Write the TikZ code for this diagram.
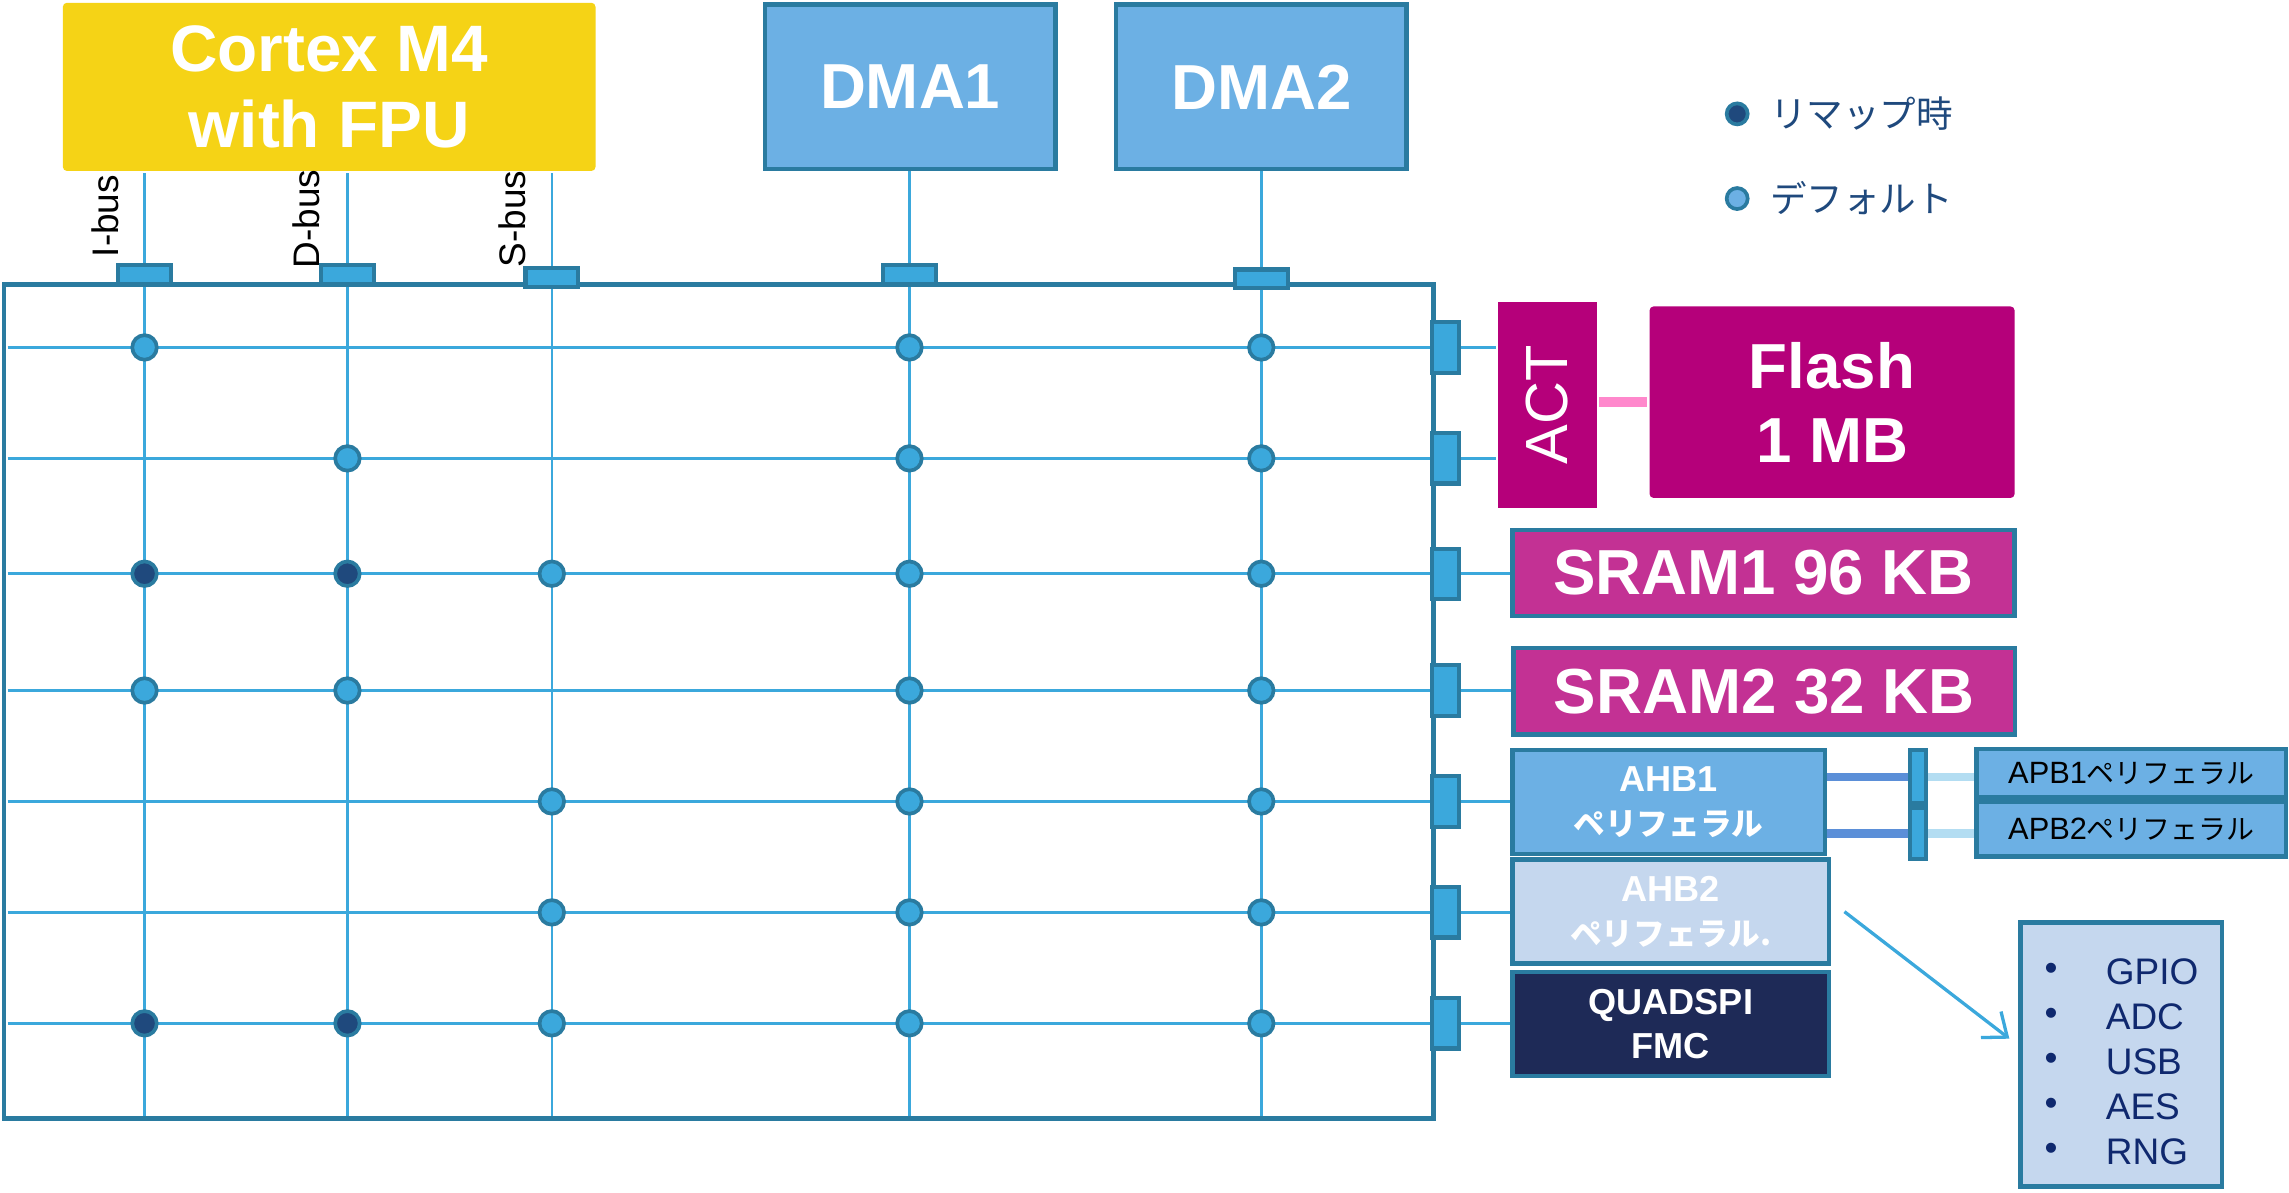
\documentclass[tikz,border=0pt]{standalone}
\usepackage{graphicx}
\usepackage{fontspec}
\setmainfont{Liberation Sans}
\newfontfamily\jpfont{Noto Sans CJK JP}
\usepackage{tikz}
\usetikzlibrary{arrows.meta,positioning,calc,backgrounds}
\definecolor{busteal}{RGB}{42,123,160}
\definecolor{gridblue}{RGB}{59,168,220}
\definecolor{dmablue}{RGB}{108,176,228}
\definecolor{cpuyellow}{RGB}{245,211,22}
\definecolor{flashmag}{RGB}{181,0,122}
\definecolor{srammag}{RGB}{195,49,148}
\definecolor{paleblue}{RGB}{197,215,238}
\definecolor{navybox}{RGB}{30,42,87}
\definecolor{remapnavy}{RGB}{31,73,125}
\definecolor{actpink}{RGB}{255,136,204}
\definecolor{bridgeblue}{RGB}{91,143,216}
\definecolor{apbline}{RGB}{179,221,242}
\definecolor{listnavy}{RGB}{15,40,110}

\begin{document}
\begin{tikzpicture}[x=0.0125cm,y=-0.0125cm,
    blk/.style={draw=busteal, line width=1.1pt, inner sep=0pt, align=center, text=white},
    port/.style={draw=busteal, fill=gridblue, line width=1pt, inner sep=0pt},
    tport/.style={port, minimum width=0.45cm, minimum height=0.16cm},
    rport/.style={port, minimum width=0.23cm, minimum height=0.43cm},
    bline/.style={draw=gridblue, line width=0.6pt},
    xdot/.style={circle, draw=busteal, line width=0.9pt, fill=gridblue, inner sep=0pt, minimum size=0.21cm},
    rdot/.style={xdot, fill=remapnavy},
    big/.style={font=\fontsize{15.5}{18}\selectfont\bfseries},
    small/.style={font=\fontsize{8.8}{10.7}\selectfont\bfseries},
    buslbl/.style={rotate=90, font=\fontsize{9}{10}\selectfont, inner sep=0pt},
    item/.style={font=\fontsize{9}{10}\selectfont, text=listnavy, inner sep=0pt}]

  \useasboundingbox (0,0) rectangle (1568,817);

  % masters
  \node[blk, draw=none, fill=cpuyellow, rounded corners=1pt, minimum width=4.56cm, minimum height=1.44cm,
        font=\fontsize{16}{18.5}\selectfont\bfseries] (cpu) at (225.5,59.5) {Cortex M4\\with FPU};
  \node[blk, fill=dmablue, minimum width=2.49cm, minimum height=1.41cm, big] (dma1) at (623.5,59.5) {DMA1};
  \node[blk, fill=dmablue, minimum width=2.49cm, minimum height=1.41cm, big] (dma2) at (864,59.5) {DMA2};

  % bus matrix and its ports
  \node[draw=busteal, line width=1.2pt, minimum width=12.24cm, minimum height=7.14cm, inner sep=0pt] (mx) at (492.5,480.5) {};
  \node[tport] (pI) at (99,188) {};
  \node[tport] (pD) at (238,188) {};
  \node[tport] (pS) at (378,190) {};
  \node[tport] (pA) at (623,188) {};
  \node[tport] (pB) at (864,191) {};
  \foreach \y [count=\i] in {238,314,393,473,549,625,701}
    \node[rport] (r\i) at (990,\y) {};

  \node[buslbl] (lI) at (72,148) {I-bus};
  \node[buslbl] (lD) at (210,150) {D-bus};
  \node[buslbl] (lS) at (351,150) {S-bus};

  % slaves
  \node[blk, draw=none, fill=flashmag, minimum width=0.85cm, minimum height=1.76cm,
        font=\fontsize{14.5}{17}\selectfont] (act) at (1060,277.5) {\rotatebox{90}{ACT}};
  \node[blk, draw=none, fill=flashmag, rounded corners=1pt, minimum width=3.125cm, minimum height=1.64cm, big] (flash) at (1255,275.5) {Flash\\1 MB};
  \node[blk, fill=srammag, minimum width=4.3cm, minimum height=0.74cm, big] (sram1) at (1208,392.5) {SRAM1 96 KB};
  \node[blk, fill=srammag, minimum width=4.29cm, minimum height=0.74cm, big] (sram2) at (1208.5,473.5) {SRAM2 32 KB};
  \node[blk, fill=dmablue, minimum width=2.675cm, minimum height=0.89cm, small] (ahb1) at (1143,549.5)
       {AHB1\\{\jpfont\fontsize{7.7}{10.7}\selectfont ペリフェラル}};
  \node[blk, fill=paleblue, minimum width=2.71cm, minimum height=0.89cm, small] (ahb2) at (1144.5,624.5)
       {AHB2\\{\jpfont\fontsize{7.7}{10.7}\selectfont ペリフェラル.}};
  \node[blk, fill=navybox, minimum width=2.71cm, minimum height=0.89cm, small] (qspi) at (1144.5,701.5) {QUADSPI\\FMC};

  % APB bridges
  \node[port, minimum width=0.14cm, minimum height=0.46cm] (br1) at (1314,532) {};
  \node[port, minimum width=0.14cm, minimum height=0.44cm] (br2) at (1314,571) {};
  \node[blk, fill=dmablue, text=black, minimum width=2.65cm, minimum height=0.41cm,
        font=\fontsize{7.5}{9}\selectfont] (apb1) at (1460,529.5) {APB1{\jpfont\fontsize{6.8}{9}\selectfont ペリフェラル}};
  \node[blk, fill=dmablue, text=black, minimum width=2.65cm, minimum height=0.47cm,
        font=\fontsize{7.5}{9}\selectfont] (apb2) at (1460,568) {APB2{\jpfont\fontsize{6.8}{9}\selectfont ペリフェラル}};

  % AHB2 list
  \node[blk, fill=paleblue, minimum width=1.725cm, minimum height=2.26cm] (lst) at (1453,722.5) {};
  \foreach \t [count=\i] in {GPIO,ADC,USB,AES,RNG} {
    \node[item] (bu\i) at (1405,{666+30.75*(\i-1)}) {\textbullet};
    \node[item, anchor=west] (it\i) at (1442,{666+30.75*(\i-1)}) {\t};
  }

  % legend
  \node[rdot, minimum size=0.18cm] (ld1) at (1190,78) {};
  \node[xdot, fill=dmablue, minimum size=0.18cm] (ld2) at (1190,136) {};
  \node[right=0.17cm of ld1, inner sep=0pt, text=remapnavy, font=\jpfont\fontsize{8.9}{10}\selectfont] (lt1) {リマップ時};
  \node[right=0.17cm of ld2, inner sep=0pt, text=remapnavy, font=\jpfont\fontsize{8.9}{10}\selectfont] (lt2) {デフォルト};

  \begin{scope}[on background layer]
    \draw[bline] (pI |- cpu.south) -- (pI);
    \draw[bline] (pD |- cpu.south) -- (pD);
    \draw[bline] (pS |- cpu.south) -- (pS);
    \draw[bline] (pA |- dma1.south) -- (pA);
    \draw[bline] (pB |- dma2.south) -- (pB);
    \foreach \c in {I,D,S,A,B}
      \draw[bline] (p\c) -- (p\c |- mx.south);
    \foreach \i/\t in {1/act,2/act,3/sram1,4/sram2,5/ahb1,6/ahb2,7/qspi}
      \draw[bline] ([xshift=1.5pt]mx.west |- r\i) -- (\t.west |- r\i);
    \draw[actpink, line width=2.5pt] (act.east |- flash) -- (flash.west);
    \draw[bridgeblue, line width=2pt] (ahb1.east |- br1) -- (br1);
    \draw[bridgeblue, line width=2pt] (ahb1.east |- br2) -- (br2);
    \draw[apbline, line width=2pt] (br1) -- (apb1.west |- br1);
    \draw[apbline, line width=2pt] (br2) -- (apb2.west |- br2);
  \end{scope}

  % crossings
  \foreach \i in {1,...,7} {
    \node[xdot] (dA\i) at (pA |- r\i) {};
    \node[xdot] (dB\i) at (pB |- r\i) {};
  }
  \foreach \c/\i/\s in {I/1/xdot,D/2/xdot,I/3/rdot,D/3/rdot,S/3/xdot,I/4/xdot,D/4/xdot,
                         S/5/xdot,S/6/xdot,I/7/rdot,D/7/rdot,S/7/xdot}
    \node[\s] (d\c\i) at (p\c |- r\i) {};

  \coordinate (ahbout) at ($(ahb2.east)+(9,0)$);
  \coordinate (lstin) at ($(lst.west)+(-6,-11)$);
  \draw[gridblue, line width=0.8pt, -{Straight Barb[length=5pt,width=8pt]}] (ahbout) -- (lstin);
\end{tikzpicture}
\end{document}
